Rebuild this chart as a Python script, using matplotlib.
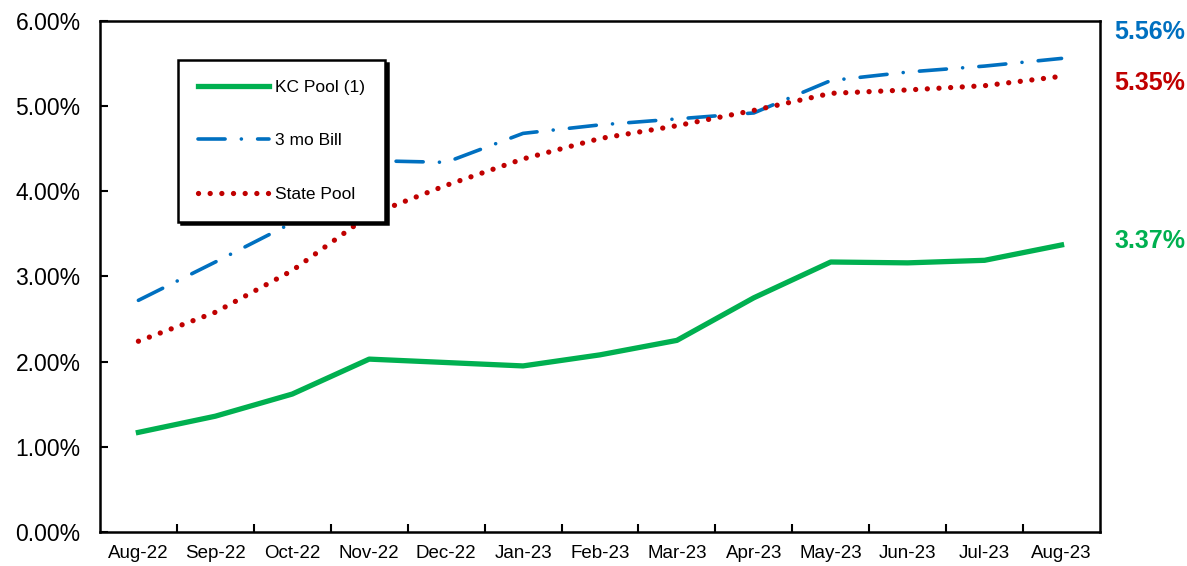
import numpy as np
import matplotlib
matplotlib.use("Agg")
import matplotlib.pyplot as plt
from matplotlib.ticker import FuncFormatter, FixedLocator

plt.rcParams['font.family'] = ['Liberation Sans', 'DejaVu Sans']

months = ["Aug-22", "Sep-22", "Oct-22", "Nov-22", "Dec-22", "Jan-23", "Feb-23",
          "Mar-23", "Apr-23", "May-23", "Jun-23", "Jul-23", "Aug-23"]
kc_pool = [1.17, 1.36, 1.62, 2.03, 1.99, 1.95, 2.08, 2.25, 2.75, 3.17, 3.16, 3.19, 3.37]
bill_3mo = [2.72, 3.17, 3.63, 4.36, 4.34, 4.68, 4.78, 4.85, 4.92, 5.30, 5.40, 5.47, 5.56]
state_pool = [2.24, 2.58, 3.07, 3.72, 4.07, 4.38, 4.62, 4.77, 4.95, 5.15, 5.19, 5.24, 5.35]

green = "#00B050"
blue = "#0070C0"
red = "#C00000"

x = np.arange(len(months))

fig = plt.figure(figsize=(11.87, 5.66), dpi=100)
ax = fig.add_axes([0.0842, 0.060, 0.8425, 0.903])

ax.plot(x, kc_pool, color=green, lw=3.8, solid_joinstyle='round', label="KC Pool (1)")
ax.plot(x, bill_3mo, color=blue, lw=2.6, dash_capstyle='round',
        linestyle=(0, (7.5, 4.5, 0.01, 4.5)), label="3 mo Bill")
ax.plot(x, state_pool, color=red, lw=3.8, dash_capstyle='round',
        linestyle=(0, (0.01, 2.2)), label="State Pool")

ax.set_xlim(-0.5, len(months) - 0.5)
ax.set_ylim(0, 6)
ax.set_yticks(np.arange(0, 7, 1))
ax.yaxis.set_major_formatter(FuncFormatter(lambda v, p: "%.2f%%" % v))
ax.set_xticks(x)
ax.set_xticklabels(months)
ax.xaxis.set_minor_locator(FixedLocator(np.arange(0.5, len(months) - 1, 1)))

ax.tick_params(axis='y', direction='in', length=6, width=1.5, labelsize=16.5, pad=14)
ax.tick_params(axis='x', which='major', length=0, labelsize=13.5, pad=9)
ax.tick_params(axis='x', which='minor', direction='in', length=6, width=1.5)
for s in ax.spines.values():
    s.set_linewidth(1.8)
    s.set_color('black')

# end labels
ends = [(bill_3mo[-1], blue, 19), (state_pool[-1], red, -5), (kc_pool[-1], green, 3)]
for val, col, dy in ends:
    ax.annotate("%.2f%%" % val, xy=(x[-1], val), xytext=(38, dy),
                textcoords='offset points', ha='left', va='center',
                fontsize=18, fontweight='bold', color=col, annotation_clip=False)

leg = ax.legend(loc='upper left', bbox_to_anchor=(0.078, 0.924), fontsize=12.5,
                frameon=True, fancybox=False, edgecolor='black',
                shadow={'color': 'black', 'alpha': 1.0},
                handlelength=4.1, handletextpad=0.35, labelspacing=2.2,
                borderpad=1.15, borderaxespad=0)
leg.get_frame().set_linewidth(1.8)

fig.savefig("out.png", dpi=100)
